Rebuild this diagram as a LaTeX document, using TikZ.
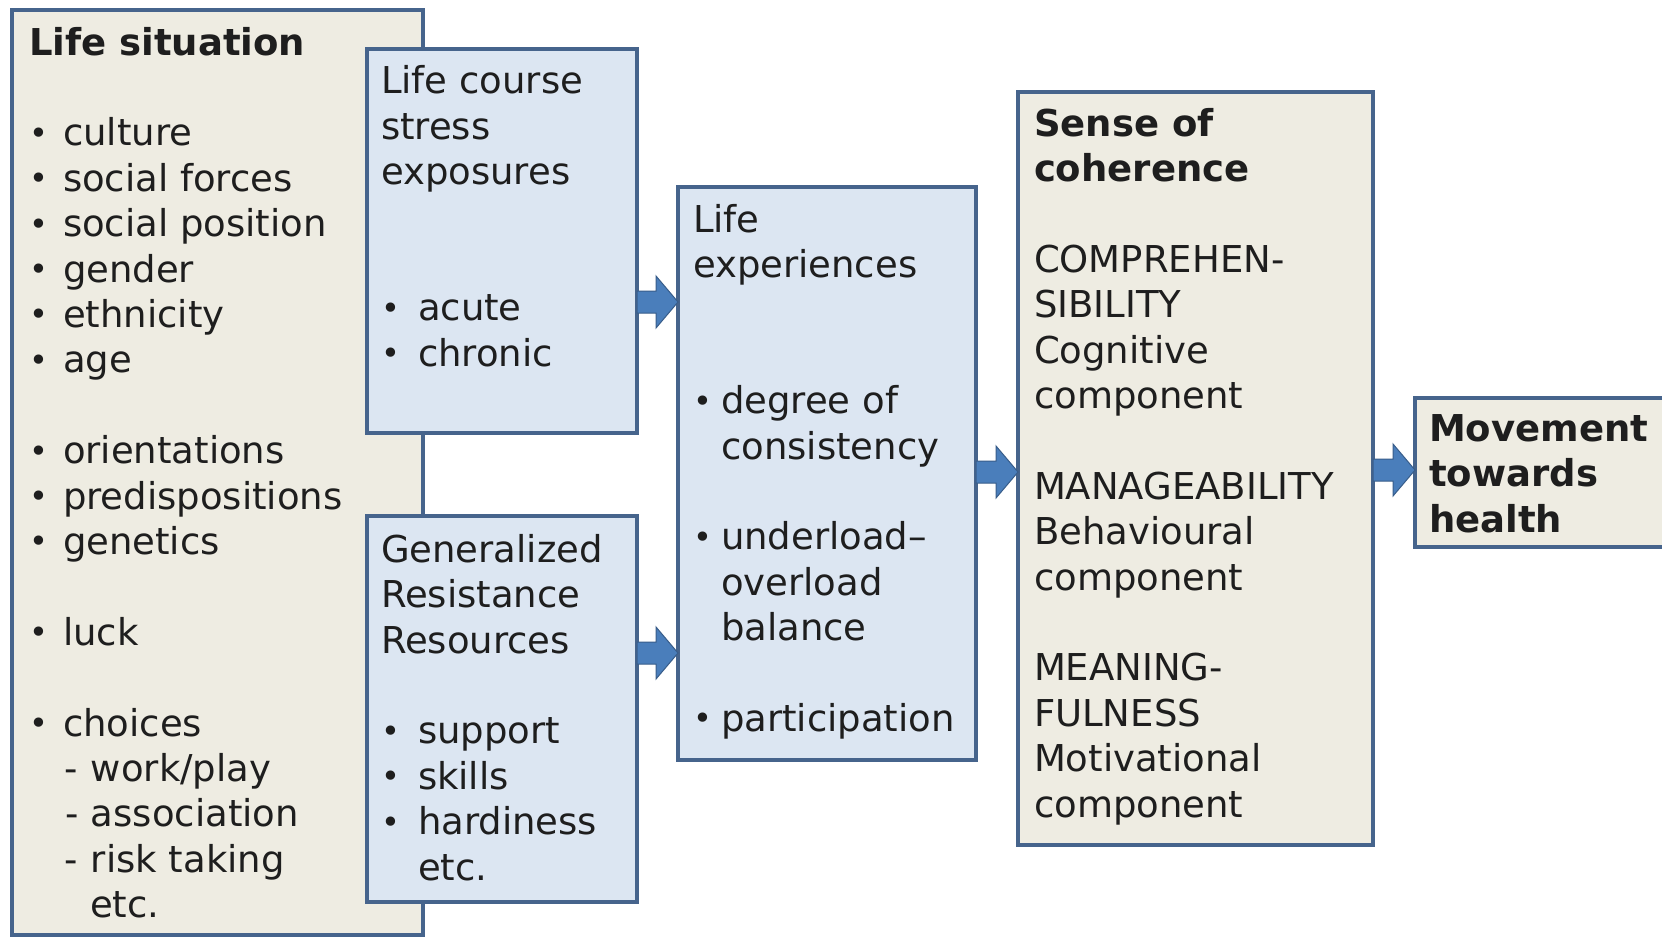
\documentclass[tikz,border=0pt]{standalone}
\usepackage{fontspec}
\setmainfont{DejaVu Sans}
\usetikzlibrary{calc}
\definecolor{bordc}{RGB}{70,100,140}
\definecolor{beigec}{RGB}{238,236,226}
\definecolor{lbluec}{RGB}{220,230,242}
\definecolor{arrfill}{RGB}{74,126,187}
\definecolor{arrline}{RGB}{56,93,138}
\definecolor{textc}{RGB}{30,30,30}
\newcommand\bul[1]{\makebox[#1][l]{\raisebox{1.5pt}{\fontsize{32}{32}\selectfont •}}}
\newcommand\skipline{\\[45.4pt]}
\newcommand\blockarr[3]{%
  \path (#1.east |- 0,#3) coordinate (s) (#2.west |- 0,#3) coordinate (t);
  \filldraw[arrstyle] ($(s)+(0,-11)$) -- ($(t)+(-22,-11)$) -- ($(t)+(-22,-26)$) -- (t)
    -- ($(t)+(-22,26)$) -- ($(t)+(-22,11)$) -- ($(s)+(0,11)$) -- cycle;}
\tikzset{
  box/.style={draw=bordc, line width=4pt, outer sep=0pt, inner sep=0pt, anchor=north west},
  beigebox/.style={box, fill=beigec},
  bluebox/.style={box, fill=lbluec},
  lbl/.style={anchor=base west, inner sep=0pt, outer sep=0pt, align=left, text=textc,
    font=\fontsize{37}{45.4}\selectfont},
  arrstyle/.style={fill=arrfill, draw=arrline, line width=1pt}
}
\begin{document}
\begin{tikzpicture}[x=1pt, y=-1pt]
\clip (0,0) rectangle (1662,943);
\fill[white] (0,0) rectangle (1662,943);

% boxes
\node[beigebox, minimum width=411pt, minimum height=925pt] (ls) at (12,10) {};
\node[bluebox, minimum width=270pt, minimum height=384pt] (lcse) at (367,49) {};
\node[bluebox, minimum width=270pt, minimum height=386pt] (grr) at (367,516) {};
\node[bluebox, minimum width=298pt, minimum height=573pt] (le) at (678,187) {};
\node[beigebox, minimum width=355pt, minimum height=753pt] (soc) at (1018,92) {};
\node[beigebox, minimum width=270pt, minimum height=149pt] (mov) at (1415,398) {};

% arrows
\blockarr{lcse}{le}{302}
\blockarr{grr}{le}{653}
\blockarr{le}{soc}{472}
\blockarr{soc}{mov}{470}

% texts (anchored at the baseline of their last line)
\node[lbl] (lstxt) at (29,917.6) {\textbf{Life situation}\skipline
\bul{34pt}culture\\
\bul{34pt}social forces\\
\bul{34pt}social position\\
\bul{34pt}gender\\
\bul{34pt}ethnicity\\
\bul{34pt}age\skipline
\bul{34pt}orientations\\
\bul{34pt}predispositions\\
\bul{34pt}genetics\skipline
\bul{34pt}luck\skipline
\bul{34pt}choices\\
\hspace*{36pt}\makebox[26pt][l]{-}work/play\\
\hspace*{36pt}\makebox[26pt][l]{-}association\\
\hspace*{36pt}\makebox[26pt][l]{-}risk taking\\
\hspace*{61pt}etc.};

\node[lbl] (lcsetxt) at (381,366) {Life course\\ stress\\ exposures\\[90.8pt]
\bul{37pt}acute\\
\bul{37pt}chronic};

\node[lbl] (grrtxt) at (381,880) {Generalized\\ Resistance\\ Resources\skipline
\bul{37pt}support\\
\bul{37pt}skills\\
\bul{37pt}hardiness\\
\hspace*{37pt}etc.};

\node[lbl] (letxt) at (693,731.4) {Life\\ experiences\\[90.8pt]
\bul{28pt}degree of\\
\hspace*{28pt}consistency\skipline
\bul{28pt}underload–\\
\hspace*{28pt}overload\\
\hspace*{28pt}balance\skipline
\bul{28pt}participation};

\node[lbl] (soctxt) at (1034,817) {\textbf{Sense of}\\ \textbf{coherence}\skipline
COMPREHEN-\\ SIBILITY\\ Cognitive\\ component\skipline
MANAGEABILITY\\ Behavioural\\ component\skipline
MEANING-\\ FULNESS\\ Motivational\\ component};

\node[lbl] (movtxt) at (1429,532) {\textbf{Movement}\\ \textbf{towards}\\ \textbf{health}};
\end{tikzpicture}
\end{document}
